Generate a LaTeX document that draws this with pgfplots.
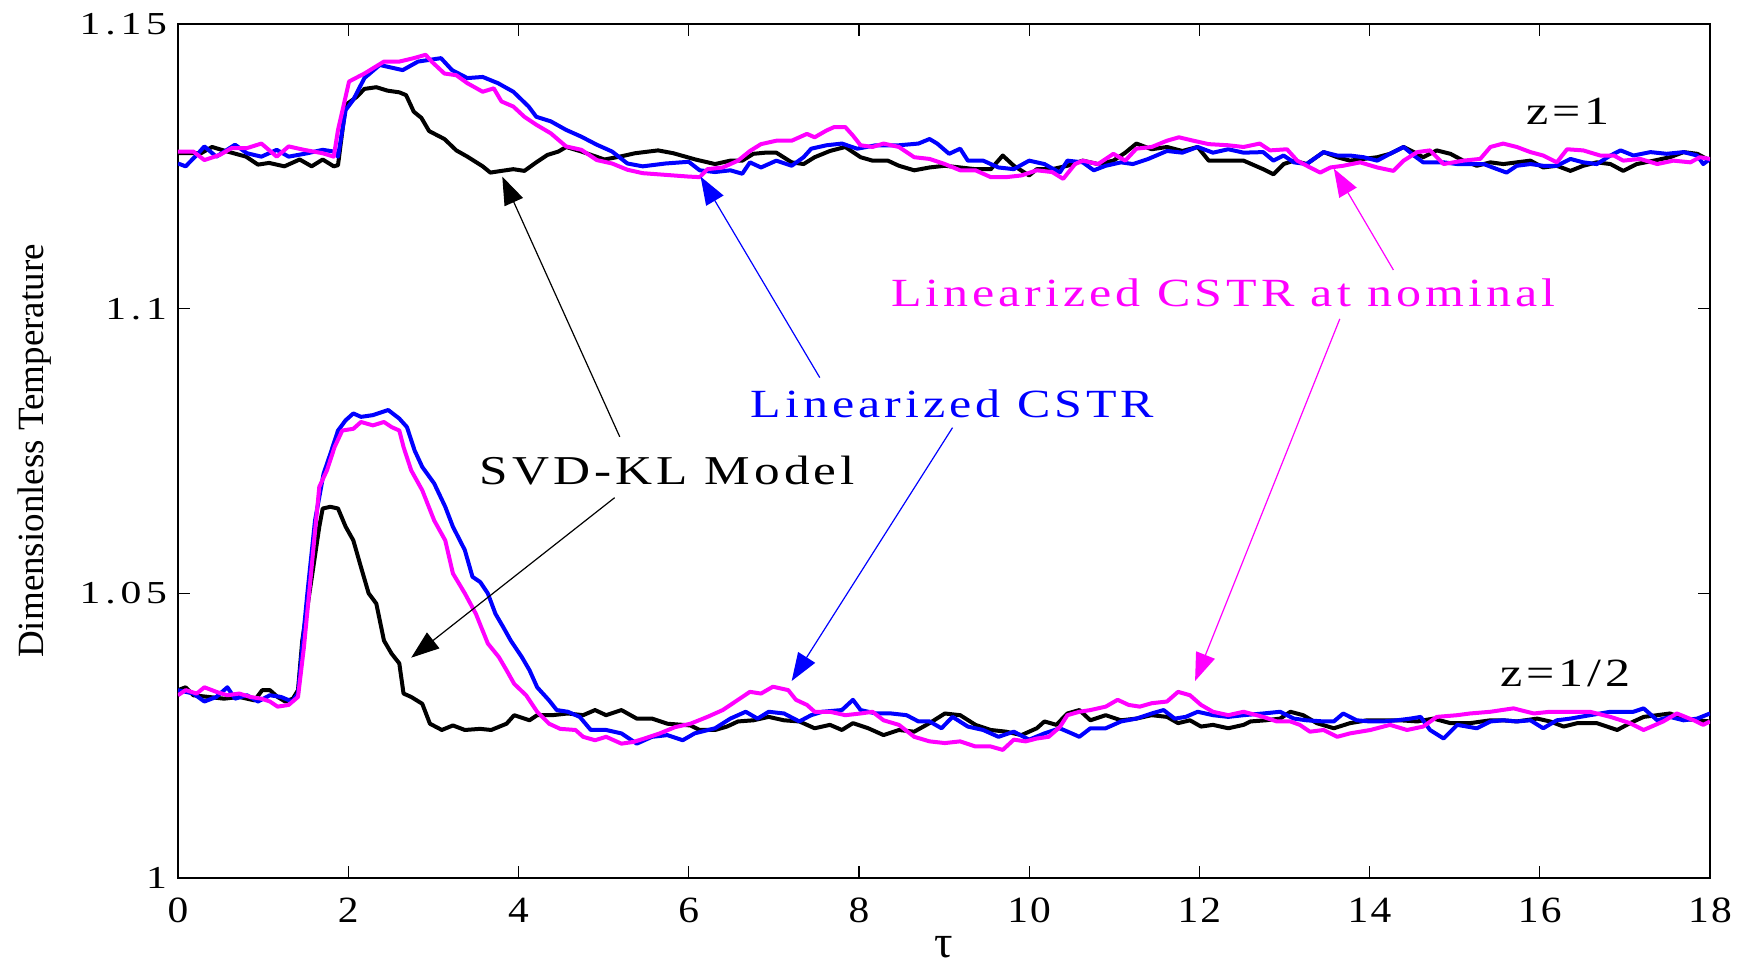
\documentclass[border=0pt]{standalone}
\usepackage{fontspec}
\setmainfont{Liberation Serif}
\newfontfamily\annfont[LetterSpace=10, FakeStretch=1.25]{Liberation Serif}
\newfontfamily\ytfont[LetterSpace=15, FakeStretch=1.3]{Liberation Serif}
\newfontfamily\xtfont[LetterSpace=6, FakeStretch=1.12]{Liberation Serif}
\usepackage{pgfplots}
\pgfplotsset{compat=1.18}
\usetikzlibrary{arrows.meta}
\definecolor{mag}{RGB}{255,0,255}
\definecolor{blu}{RGB}{0,0,255}
\begin{document}
\begin{tikzpicture}
\useasboundingbox (-89pt,-44pt) rectangle (782.5pt,439pt);
\begin{axis}[
  at={(0,0)}, anchor=south west,
  width=766pt, height=427pt, scale only axis,
  xmin=0, xmax=18, ymin=1, ymax=1.15,
  xtick={0,2,...,18},
  ytick={1,1.05,1.1,1.15},
  yticklabels={1,1.05,1.1,1.15},
  /pgf/number format/assume math mode=true,
  tick align=inside,
  major tick length=6pt,
  every tick/.style={black, line width=0.6pt},
  axis line style={line width=1pt},
  xticklabel style={font=\fontsize{18.5}{20}\selectfont\xtfont, yshift=-6.5pt},
  yticklabel style={font=\fontsize{16}{18}\selectfont\ytfont, xshift=-2pt},
  xlabel={τ},
  xlabel style={font=\fontsize{23}{24}\selectfont, at={(axis description cs:0.5,0)}, anchor=base, inner sep=0pt, yshift=-39.5pt},
  ylabel={Dimensionless Temperature},
  ylabel style={font=\fontsize{18.5}{20}\selectfont, at={(axis description cs:-0.0935,0.5)}, anchor=center},
  every axis plot/.append style={line width=2pt, line join=round},
]
% ---------- z = 1 ----------
\addplot[black] coordinates {
(0,1.1273) (0.27,1.1273) (0.4,1.1284) (0.58,1.1276) (0.8,1.1267) (0.94,1.1253) (1.07,1.1256) (1.25,1.125) (1.43,1.1262) (1.57,1.125) (1.7,1.1262) (1.83,1.125) (1.88,1.1252) (1.97,1.1358) (2.1,1.1372) (2.19,1.1386) (2.33,1.1389) (2.46,1.1383) (2.6,1.138) (2.68,1.1375) (2.77,1.1346) (2.86,1.1335) (2.95,1.1312) (3.13,1.1298) (3.27,1.1278) (3.4,1.1267) (3.58,1.125) (3.67,1.1239) (3.8,1.1242) (3.94,1.1245) (4.07,1.1242) (4.2,1.1256) (4.34,1.127) (4.47,1.1276) (4.56,1.1284) (4.74,1.1276) (5.01,1.1262) (5.19,1.1267) (5.37,1.1273) (5.64,1.1278) (5.82,1.1273) (6.08,1.1262)
(6.31,1.1254) (6.49,1.126) (6.63,1.126) (6.76,1.1272) (6.9,1.1274) (7.03,1.1274) (7.21,1.1257) (7.35,1.1254) (7.48,1.1266) (7.66,1.1277) (7.84,1.1284) (8.02,1.1266) (8.16,1.126) (8.34,1.126) (8.47,1.1251) (8.65,1.1243) (8.83,1.1248) (9.01,1.1251) (9.19,1.1248) (9.37,1.1245) (9.55,1.1245) (9.69,1.1269) (9.82,1.1251) (10.0,1.1234) (10.09,1.1245) (10.27,1.1245) (10.45,1.1251) (10.63,1.126) (10.81,1.1254) (10.99,1.126) (11.13,1.1274) (11.26,1.129) (11.44,1.128) (11.62,1.1284) (11.8,1.1277) (11.98,1.1284) (12.11,1.126) (12.29,1.126) (12.52,1.126)
(12.75,1.1245) (12.87,1.1236) (12.99,1.1254) (13.11,1.126) (13.26,1.1254) (13.46,1.1275) (13.62,1.1266) (13.77,1.126) (13.93,1.1263) (14.09,1.1266) (14.24,1.1272) (14.4,1.1284) (14.52,1.1275) (14.63,1.1266) (14.79,1.1278) (14.95,1.1272) (15.1,1.126) (15.26,1.1251) (15.42,1.1257) (15.57,1.1254) (15.73,1.1257) (15.89,1.126) (16.04,1.1248) (16.2,1.1251) (16.36,1.1242) (16.51,1.1251) (16.67,1.1257) (16.83,1.1254) (16.98,1.1242) (17.14,1.1254) (17.34,1.126) (17.53,1.1266) (17.69,1.1275) (17.85,1.1272) (18.0,1.126)
};
\addplot[blu] coordinates {
(0,1.1255) (0.09,1.125) (0.22,1.127) (0.31,1.1285) (0.45,1.1267) (0.67,1.1288) (0.81,1.1273) (0.98,1.1267) (1.16,1.1279) (1.3,1.1267) (1.52,1.1273) (1.7,1.1279) (1.83,1.1276) (1.88,1.1267) (1.97,1.1349) (2.06,1.1367) (2.19,1.1405) (2.37,1.1428) (2.64,1.1419) (2.82,1.1434) (3.09,1.144) (3.22,1.1419) (3.4,1.1405) (3.58,1.1407) (3.76,1.1396) (3.94,1.1381) (4.12,1.1355) (4.21,1.1337) (4.38,1.1329) (4.56,1.1314) (4.74,1.1302) (4.92,1.1288) (5.1,1.1276) (5.28,1.1255) (5.46,1.125) (5.73,1.1255) (6.0,1.1258)
(6.13,1.1243) (6.31,1.124) (6.49,1.1243) (6.63,1.1237) (6.72,1.1257) (6.85,1.1248) (7.03,1.126) (7.21,1.1251) (7.35,1.1266) (7.44,1.1281) (7.62,1.1287) (7.8,1.129) (7.98,1.1281) (8.2,1.1287) (8.47,1.1287) (8.7,1.129) (8.83,1.1298) (8.92,1.129) (9.06,1.1272) (9.19,1.1281) (9.28,1.126) (9.46,1.126) (9.64,1.1248) (9.82,1.1245) (10.0,1.126) (10.18,1.1254) (10.36,1.1239) (10.45,1.126) (10.63,1.1257) (10.76,1.1243) (10.9,1.1251) (11.08,1.1257) (11.22,1.1254) (11.4,1.1263) (11.62,1.1277) (11.8,1.1274) (11.98,1.1284) (12.16,1.1274) (12.34,1.128) (12.52,1.1274)
(12.75,1.1275) (12.87,1.126) (12.99,1.1269) (13.11,1.1257) (13.26,1.1254) (13.46,1.1275) (13.62,1.1269) (13.77,1.1269) (13.93,1.1266) (14.09,1.126) (14.24,1.1272) (14.4,1.1284) (14.52,1.1269) (14.63,1.1257) (14.87,1.1257) (15.03,1.1254) (15.34,1.1254) (15.5,1.1245) (15.61,1.1239) (15.73,1.1251) (15.89,1.1254) (16.04,1.1251) (16.2,1.1251) (16.36,1.1263) (16.51,1.1257) (16.67,1.1254) (16.83,1.1269) (16.95,1.1278) (17.1,1.1269) (17.3,1.1275) (17.49,1.1272) (17.69,1.1275) (17.85,1.1269) (17.92,1.1254) (18.0,1.1263)
};
\addplot[mag] coordinates {
(0,1.1276) (0.18,1.1276) (0.31,1.1261) (0.49,1.127) (0.63,1.1282) (0.81,1.1282) (0.98,1.129) (1.16,1.1267) (1.3,1.1285) (1.48,1.1279) (1.7,1.1273) (1.83,1.1267) (1.88,1.1314) (2.01,1.1399) (2.19,1.1413) (2.42,1.1434) (2.6,1.1434) (2.77,1.144) (2.91,1.1446) (2.98,1.1434) (3.13,1.1413) (3.27,1.141) (3.4,1.1396) (3.58,1.1381) (3.71,1.1387) (3.8,1.1364) (3.94,1.1355) (4.07,1.1337) (4.21,1.1323) (4.38,1.1308) (4.56,1.1285) (4.74,1.1279) (4.92,1.1261) (5.1,1.1255) (5.28,1.1244) (5.46,1.1238) (5.73,1.1235) (6.0,1.1232)
(6.13,1.1231) (6.22,1.1245) (6.4,1.1248) (6.58,1.126) (6.72,1.1277) (6.85,1.1289) (7.03,1.1295) (7.21,1.1295) (7.39,1.1307) (7.48,1.1301) (7.62,1.1313) (7.71,1.1319) (7.84,1.1319) (7.93,1.1304) (8.02,1.1287) (8.16,1.1284) (8.29,1.129) (8.47,1.1284) (8.65,1.1266) (8.83,1.1263) (9.01,1.1254) (9.19,1.1243) (9.37,1.1243) (9.55,1.1231) (9.73,1.1231) (9.91,1.1234) (10.09,1.1243) (10.27,1.124) (10.4,1.1228) (10.54,1.1254) (10.63,1.126) (10.81,1.1254) (10.99,1.1272) (11.13,1.126) (11.26,1.1281) (11.44,1.1284) (11.62,1.1295) (11.76,1.1301) (11.93,1.1295) (12.11,1.1289) (12.34,1.1287) (12.52,1.1284)
(12.71,1.129) (12.83,1.1278) (13.03,1.128) (13.15,1.126) (13.3,1.1248) (13.42,1.1239) (13.54,1.1248) (13.69,1.1251) (13.89,1.1257) (14.09,1.1248) (14.28,1.1242) (14.4,1.126) (14.56,1.1275) (14.71,1.1278) (14.87,1.1254) (15.1,1.126) (15.3,1.1263) (15.42,1.1284) (15.57,1.129) (15.73,1.1284) (15.89,1.1275) (16.04,1.1269) (16.2,1.1257) (16.32,1.128) (16.51,1.1278) (16.71,1.1269) (16.87,1.1269) (16.98,1.126) (17.18,1.1263) (17.38,1.1254) (17.57,1.126) (17.77,1.1257) (17.88,1.1266) (18.0,1.1263)
};
% ---------- z = 1/2 ----------
\addplot[black] coordinates {
(0,1.033) (0.09,1.0335) (0.18,1.0321) (0.36,1.0318) (0.54,1.0315) (0.72,1.0318) (0.9,1.0312) (0.99,1.033) (1.08,1.033) (1.17,1.0318) (1.26,1.031) (1.35,1.0315) (1.41,1.033) (1.46,1.0417) (1.52,1.0476) (1.59,1.0546) (1.66,1.0617) (1.7,1.0649) (1.79,1.0652) (1.88,1.0649) (1.97,1.0617) (2.06,1.0593) (2.15,1.0546) (2.24,1.05) (2.33,1.0482) (2.42,1.0417) (2.51,1.0394) (2.6,1.0377) (2.65,1.0324) (2.74,1.0318) (2.87,1.0306) (2.96,1.0271) (3.1,1.026) (3.23,1.0268) (3.37,1.026) (3.55,1.0262) (3.68,1.026) (3.86,1.0271) (3.95,1.0286) (4.13,1.0277) (4.22,1.0286) (4.4,1.0286) (4.58,1.0289) (4.76,1.0286) (4.9,1.0295) (5.03,1.0286) (5.21,1.0295) (5.39,1.028) (5.57,1.028) (5.75,1.0271) (6.02,1.0268)
(6.13,1.026) (6.31,1.026) (6.45,1.0266) (6.58,1.0275) (6.76,1.0277) (6.94,1.0283) (7.12,1.0277) (7.3,1.0275) (7.48,1.0263) (7.66,1.0269) (7.8,1.026) (7.93,1.0272) (8.11,1.0263) (8.29,1.0251) (8.47,1.026) (8.65,1.0257) (8.83,1.0272) (9.01,1.0289) (9.19,1.0286) (9.37,1.0269) (9.55,1.026) (9.73,1.0257) (9.91,1.0251) (10.09,1.0263) (10.18,1.0275) (10.32,1.0269) (10.45,1.0289) (10.59,1.0295) (10.72,1.0277) (10.9,1.0286) (11.08,1.0277) (11.26,1.028) (11.44,1.0286) (11.62,1.0283) (11.75,1.0272) (11.89,1.0277) (12.02,1.0266) (12.16,1.0269) (12.34,1.0263) (12.52,1.0269)
(12.6,1.0275) (12.78,1.0277) (12.95,1.028) (13.07,1.0292) (13.22,1.0286) (13.38,1.0272) (13.58,1.0263) (13.77,1.0272) (13.97,1.0277) (14.16,1.0277) (14.36,1.0277) (14.56,1.0275) (14.75,1.028) (14.95,1.0272) (15.18,1.0272) (15.42,1.0277) (15.57,1.0277) (15.73,1.0275) (15.97,1.028) (16.12,1.0275) (16.28,1.0266) (16.44,1.0272) (16.67,1.0272) (16.91,1.026) (17.06,1.0272) (17.22,1.0283) (17.38,1.0286) (17.53,1.0289) (17.69,1.028) (17.85,1.0277) (18.0,1.0275)
};
\addplot[blu] coordinates {
(0,1.033) (0.18,1.0324) (0.31,1.031) (0.45,1.0318) (0.58,1.0335) (0.67,1.0315) (0.81,1.0321) (0.94,1.031) (1.08,1.0321) (1.21,1.0318) (1.34,1.031) (1.41,1.0324) (1.46,1.0406) (1.52,1.05) (1.61,1.0628) (1.71,1.071) (1.79,1.0745) (1.88,1.0786) (1.97,1.0804) (2.06,1.0816) (2.15,1.081) (2.29,1.0813) (2.47,1.0822) (2.6,1.0807) (2.69,1.0792) (2.78,1.0751) (2.87,1.0722) (3.01,1.0693) (3.14,1.0652) (3.23,1.0617) (3.37,1.0576) (3.46,1.0529) (3.55,1.052) (3.64,1.05) (3.73,1.0464) (3.82,1.0441) (3.91,1.0417) (4.04,1.0388) (4.13,1.0365) (4.22,1.0335) (4.36,1.0312) (4.45,1.0295) (4.58,1.0292) (4.72,1.0283) (4.85,1.026) (5.03,1.026) (5.21,1.0254) (5.39,1.0236) (5.57,1.0248) (5.75,1.0251) (5.93,1.0242) (6.07,1.0254)
(6.31,1.0263) (6.49,1.028) (6.67,1.0292) (6.81,1.028) (6.94,1.0292) (7.12,1.0289) (7.3,1.0275) (7.44,1.0286) (7.57,1.0292) (7.8,1.0295) (7.93,1.0313) (8.02,1.0295) (8.2,1.0289) (8.38,1.0289) (8.56,1.0286) (8.7,1.0275) (8.83,1.0275) (8.97,1.0263) (9.1,1.0283) (9.28,1.0266) (9.46,1.026) (9.64,1.0248) (9.82,1.0257) (10.0,1.0243) (10.18,1.0254) (10.36,1.0263) (10.5,1.0254) (10.59,1.0248) (10.72,1.0263) (10.9,1.0263) (11.08,1.0275) (11.26,1.028) (11.44,1.0289) (11.58,1.0295) (11.71,1.028) (11.84,1.0283) (11.98,1.0292) (12.16,1.0286) (12.34,1.0283) (12.52,1.0286)
(12.75,1.0289) (12.95,1.0292) (13.11,1.028) (13.26,1.0277) (13.46,1.0275) (13.58,1.0275) (13.69,1.0289) (13.85,1.0277) (14.0,1.0275) (14.16,1.0275) (14.32,1.0277) (14.48,1.028) (14.6,1.0283) (14.71,1.026) (14.87,1.0245) (15.03,1.0269) (15.26,1.0263) (15.42,1.0275) (15.57,1.0277) (15.73,1.0275) (15.89,1.0277) (16.04,1.0263) (16.2,1.0277) (16.36,1.028) (16.59,1.0286) (16.83,1.0292) (17.1,1.0292) (17.22,1.0298) (17.38,1.0277) (17.53,1.0283) (17.69,1.0277) (17.85,1.028) (18.0,1.0289)
};
\addplot[mag] coordinates {
(0,1.0321) (0.09,1.033) (0.22,1.0324) (0.31,1.0335) (0.45,1.0327) (0.58,1.0321) (0.72,1.0324) (0.85,1.0318) (0.98,1.0315) (1.08,1.031) (1.17,1.0301) (1.3,1.0304) (1.41,1.0318) (1.48,1.0406) (1.57,1.0546) (1.66,1.0687) (1.75,1.0716) (1.84,1.0757) (1.93,1.0786) (2.06,1.0789) (2.15,1.0801) (2.29,1.0795) (2.42,1.0801) (2.51,1.0792) (2.6,1.0786) (2.65,1.0757) (2.74,1.0716) (2.87,1.0681) (3.01,1.0628) (3.14,1.0593) (3.23,1.0535) (3.37,1.05) (3.5,1.0464) (3.64,1.0412) (3.77,1.0388) (3.86,1.0365) (3.95,1.0341) (4.09,1.0321) (4.22,1.0292) (4.36,1.0271) (4.49,1.0262) (4.67,1.026) (4.76,1.0248) (4.9,1.0242) (5.03,1.0248) (5.21,1.0236) (5.35,1.0239) (5.48,1.0245) (5.66,1.0254) (5.84,1.0265) (6.02,1.0271)
(6.22,1.0283) (6.4,1.0295) (6.58,1.0313) (6.72,1.0327) (6.85,1.0324) (6.99,1.0336) (7.17,1.033) (7.26,1.0313) (7.39,1.0304) (7.48,1.0292) (7.66,1.0292) (7.84,1.0286) (8.02,1.0289) (8.16,1.0292) (8.29,1.0277) (8.47,1.0269) (8.65,1.0248) (8.83,1.024) (9.01,1.0237) (9.19,1.024) (9.37,1.0231) (9.55,1.0231) (9.69,1.0225) (9.82,1.0243) (9.96,1.024) (10.09,1.0245) (10.23,1.0248) (10.36,1.0265) (10.45,1.0286) (10.59,1.0292) (10.72,1.0295) (10.9,1.0301) (11.04,1.0313) (11.17,1.0304) (11.3,1.0301) (11.44,1.0307) (11.62,1.031) (11.75,1.0327) (11.89,1.0321) (12.02,1.0304) (12.16,1.0292) (12.34,1.0286) (12.52,1.0292)
(12.75,1.0283) (12.91,1.0275) (13.07,1.0275) (13.18,1.0269) (13.3,1.0257) (13.46,1.026) (13.62,1.0248) (13.77,1.0254) (14.01,1.026) (14.24,1.0269) (14.44,1.026) (14.63,1.0266) (14.79,1.0283) (15.03,1.0286) (15.18,1.0289) (15.42,1.0292) (15.69,1.0298) (15.93,1.0289) (16.12,1.0292) (16.36,1.0292) (16.59,1.0292) (16.83,1.0283) (17.06,1.0272) (17.22,1.026) (17.45,1.0275) (17.61,1.0289) (17.81,1.0277) (17.92,1.0269) (18.0,1.0275)
};
% ---------- annotations ----------
\draw[black, line width=0.6pt, -{Triangle[length=14pt,width=10pt]}] (axis cs:5.19,1.0775) -- (axis cs:3.81,1.1232);
\draw[black, line width=0.6pt, -{Triangle[length=14pt,width=10pt]}] (axis cs:5.13,1.0668) -- (axis cs:2.74,1.0387);
\draw[blu, line width=0.6pt, -{Triangle[length=14pt,width=10pt]}] (axis cs:7.54,1.0879) -- (axis cs:6.14,1.1232);
\draw[blu, line width=0.6pt, -{Triangle[length=14pt,width=10pt]}] (axis cs:9.1,1.0791) -- (axis cs:7.21,1.0346);
\draw[mag, line width=0.6pt, -{Triangle[length=14pt,width=10pt]}] (axis cs:14.28,1.1068) -- (axis cs:13.58,1.1246);
\draw[mag, line width=0.6pt, -{Triangle[length=14pt,width=10pt]}] (axis cs:13.65,1.0982) -- (axis cs:11.95,1.0346);
\node[anchor=base, text=mag, font=\fontsize{20}{22}\selectfont\annfont] at (axis cs:12.28,1.1004) {Linearized CSTR at nominal};
\node[anchor=base, text=blu, font=\fontsize{20}{22}\selectfont\annfont] at (axis cs:9.10,1.0809) {Linearized CSTR};
\node[anchor=base, text=black, font=\fontsize{20.5}{22}\selectfont\annfont] at (axis cs:5.75,1.0691) {SVD-KL Model};
\node[anchor=base, text=black, font=\fontsize{20}{22}\selectfont\annfont] at (axis cs:16.33,1.1324) {z=1};
\node[anchor=base, text=black, font=\fontsize{20}{22}\selectfont\annfont] at (axis cs:16.3,1.0336) {z=1/2};
\end{axis}
\end{tikzpicture}
\end{document}
